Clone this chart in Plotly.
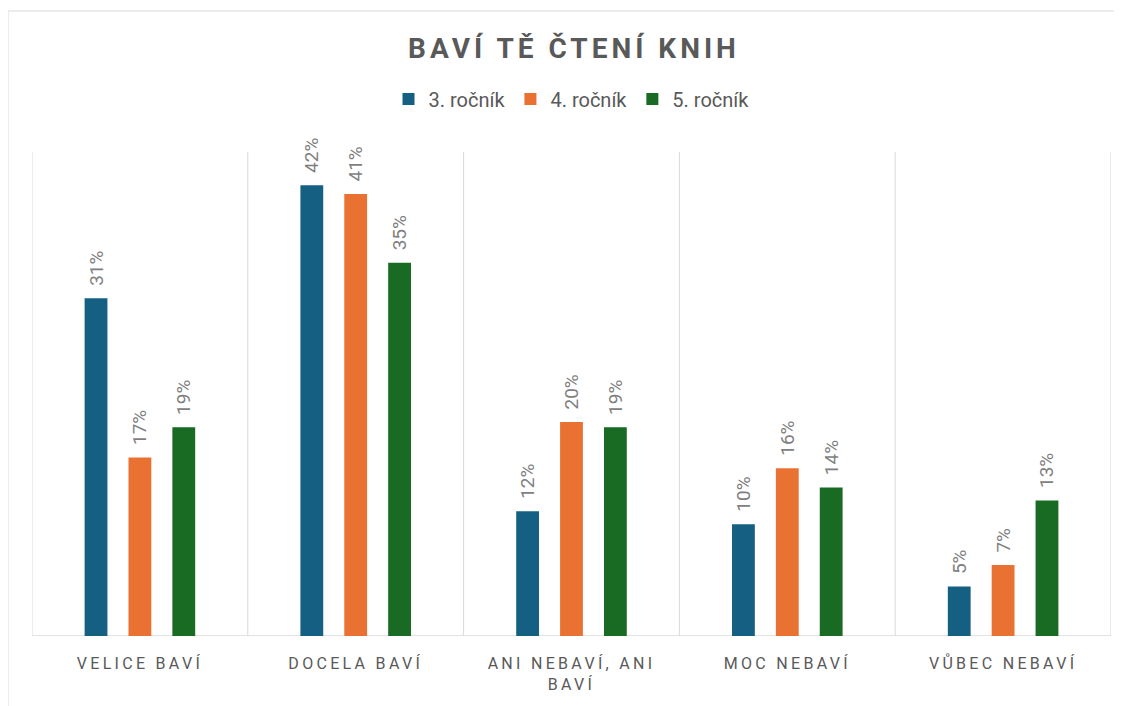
import plotly.graph_objects as go

categories = ["VELICE BAVÍ", "DOCELA BAVÍ", "ANI NEBAVÍ, ANI<br>BAVÍ", "MOC NEBAVÍ", "VŮBEC NEBAVÍ"]
series_names = ["3. ročník", "4. ročník", "5. ročník"]
values_3 = [31.4, 41.9, 11.6, 10.4, 4.6]
values_4 = [16.6, 41.1, 19.9, 15.6, 6.6]
values_5 = [19.4, 34.7, 19.4, 13.8, 12.6]
colors = ["#156082", "#E97132", "#196B24"]

# page body has an 8px margin; work in figure coordinates
W, H = 1114, 698
L, R, T, B = 24, 11, 144, 70

fig = go.Figure()
for name, vals, col in zip(series_names, [values_3, values_4, values_5], colors):
    fig.add_trace(go.Bar(
        x=categories, y=vals, name=name, marker=dict(color=col, line=dict(width=0)),
        texttemplate="\u00a0\u00a0%{y:.0f}%", textposition="outside", textangle=-90,
        textfont=dict(family="Roboto", size=19, color="#7F7F7F"),
        cliponaxis=False, constraintext="none",
    ))

pw = W - L - R
ph = H - T - B
shapes = []
for i in range(len(categories) + 1):
    shapes.append(dict(type="line", xref="x", yref="paper", x0=i - 0.5, x1=i - 0.5, y0=0, y1=1,
                       line=dict(color="#D9D9D9", width=1), layer="below"))
shapes.append(dict(type="line", xref="paper", yref="y", x0=0, x1=1, y0=0, y1=0,
                   line=dict(color="#D9D9D9", width=1.3), layer="below"))
# chart frame
fx0 = (0 - L) / pw
fx1 = (1113 - L) / pw
fy1 = (H - B - 3) / ph
fy0 = (H - B - 720) / ph
shapes.append(dict(type="rect", xref="paper", yref="paper", x0=fx0, x1=fx1, y0=fy0, y1=fy1,
                   line=dict(color="#E6E6E6", width=1.5), layer="below"))

fig.update_layout(
    width=W, height=H,
    margin=dict(l=L, r=R, t=T, b=B),
    paper_bgcolor="white", plot_bgcolor="white",
    title=dict(text="<b>BAVÍ TĚ ČTENÍ KNIH</b>", x=566 / W, xanchor="center",
               y=1 - 40 / H, yanchor="middle",
               font=dict(family="Roboto", size=28, color="#595959")),
    legend=dict(orientation="h", x=0.5, xanchor="center", y=(H - B - 91) / ph, yanchor="middle",
                font=dict(family="Roboto", size=20, color="#595959"), traceorder="normal",
                itemwidth=30),
    barmode="group", bargap=0.39, bargroupgap=0.48,
    xaxis=dict(showgrid=False, showline=False, ticks="", ticklabelstandoff=16,
               tickfont=dict(family="Roboto", size=16, color="#595959"), range=[-0.5, 4.5]),
    yaxis=dict(range=[0, 45], showgrid=False, showticklabels=False, zeroline=False, showline=False),
    shapes=shapes,
    showlegend=True,
)

post = """
var gd = document.getElementById('{plot_id}');
function applySpacing(){
  gd.querySelectorAll('.gtitle').forEach(function(e){ e.style.letterSpacing = '4px'; });
  gd.querySelectorAll('.xtick text').forEach(function(e){ e.style.letterSpacing = '3.3px'; });
}
applySpacing();
gd.on && gd.on('plotly_afterplot', applySpacing);
"""

fig.write_html("out.html", post_script=post)
